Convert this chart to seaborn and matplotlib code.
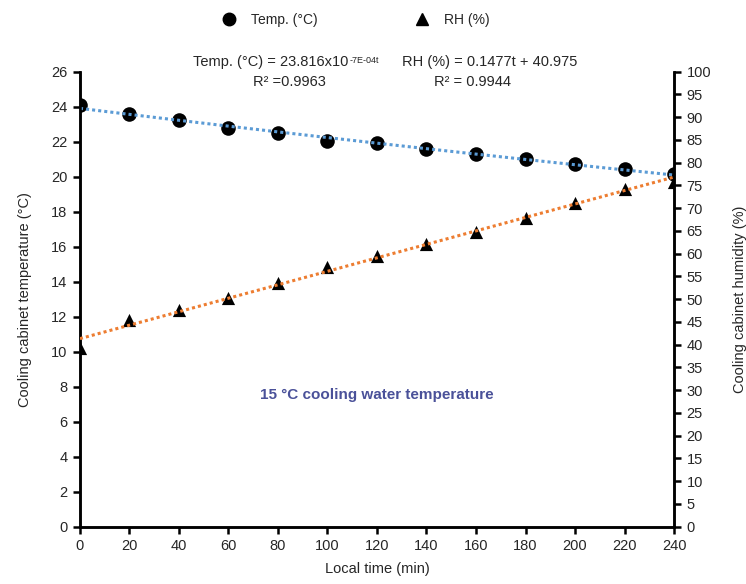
import numpy as np
import pandas as pd
import seaborn as sns
import matplotlib
matplotlib.use('Agg')
import matplotlib.pyplot as plt

# values
time_min = [0, 20, 40, 60, 80, 100, 120, 140, 160, 180, 200, 220, 240]
temp_c = [24.1, 23.58, 23.24, 22.8, 22.51, 22.06, 21.9, 21.58, 21.3, 21.0, 20.71, 20.42, 20.15]
rh_pct = [39.2, 45.4, 47.6, 50.2, 53.5, 57.0, 59.4, 62.1, 64.7, 67.9, 71.2, 74.2, 75.8]

temp_eq = 'Temp. (°C) = 23.816x10'
temp_exp = '-7E-04t'
temp_r2 = 'R² =0.9963'
rh_eq = 'RH (%) = 0.1477t + 40.975'
rh_r2 = 'R² = 0.9944'
note = '15 °C cooling water temperature'

sns.set_theme(style='ticks')
plt.rcParams['font.family'] = ['Liberation Sans', 'DejaVu Sans']
plt.rcParams['font.size'] = 10.5

df = pd.DataFrame({'t': time_min, 'temp': temp_c, 'rh': rh_pct})

# trendlines: exponential for temperature, linear for humidity
k, ln_a = np.polyfit(df['t'], np.log(df['temp']), 1)
df['temp_fit'] = np.exp(ln_a) * np.exp(k * df['t'])
m, b = np.polyfit(df['t'], df['rh'], 1)
df['rh_fit'] = m * df['t'] + b

fig = plt.figure(figsize=(7.46, 5.84), dpi=100)
ax = fig.add_axes([0.1072, 0.0981, 0.7963, 0.7791])
ax2 = ax.twinx()

sns.scatterplot(data=df, x='t', y='temp', ax=ax, color='black', marker='o',
                s=110, edgecolor='black', linewidth=0, zorder=3, legend=False)
sns.lineplot(data=df, x='t', y='temp_fit', ax=ax, color='#5b9bd5', lw=2.2,
             linestyle=(0, (1, 1)), zorder=4)
sns.scatterplot(data=df, x='t', y='rh', ax=ax2, color='black', marker='^',
                s=90, edgecolor='black', linewidth=0, zorder=3, legend=False)
sns.lineplot(data=df, x='t', y='rh_fit', ax=ax2, color='#ed7d31', lw=2.2,
             linestyle=(0, (1, 1)), zorder=4)

ax.set_xlim(0, 240)
ax.set_ylim(0, 26)
ax2.set_ylim(0, 100)
ax.set_xticks(range(0, 241, 20))
ax.set_yticks(range(0, 27, 2))
ax2.set_yticks(range(0, 101, 5))

ax.set_xlabel('Local time (min)', fontsize=10.5, labelpad=6)
ax.set_ylabel('Cooling cabinet temperature (°C)', fontsize=10.5, labelpad=14)
ax2.set_ylabel('Cooling cabinet humidity (%)', fontsize=10.5, labelpad=16)

for a in (ax, ax2):
    a.spines['top'].set_visible(False)
    for s in a.spines.values():
        s.set_linewidth(1.8)
        s.set_color('black')
    a.tick_params(width=1.8, length=5, color='black', labelsize=10.5, pad=4)
    if a.get_legend() is not None:
        a.get_legend().remove()

ax.text(0.5, 0.29, note, transform=ax.transAxes, ha='center', va='center',
        fontsize=11, fontweight='bold', color='#4a5199')

t1 = fig.text(193 / 746, 1 - 62 / 584, temp_eq, ha='left', va='center', fontsize=10.5)
ax.annotate(temp_exp, xy=(1.0, 0.95), xycoords=t1, xytext=(1, 0), textcoords='offset points',
            fontsize=6.5, va='top', ha='left', annotation_clip=False)
fig.text(289 / 746, 1 - 82 / 584, temp_r2, ha='center', va='center', fontsize=10.5)
fig.text(490 / 746, 1 - 62 / 584, rh_eq, ha='center', va='center', fontsize=10.5)
fig.text(473 / 746, 1 - 82 / 584, rh_r2, ha='center', va='center', fontsize=10.5)

h_temp = plt.Line2D([], [], color='black', marker='o', linestyle='none', markersize=9)
h_rh = plt.Line2D([], [], color='black', marker='^', linestyle='none', markersize=8)
fig.legend([h_temp, h_rh], ['Temp. (°C)', 'RH (%)'], loc='center',
           bbox_to_anchor=(352 / 746, 1 - 20 / 584), ncol=2, frameon=False,
           columnspacing=6.5, handletextpad=0.6, fontsize=10)

fig.savefig('out.png', dpi=100)
